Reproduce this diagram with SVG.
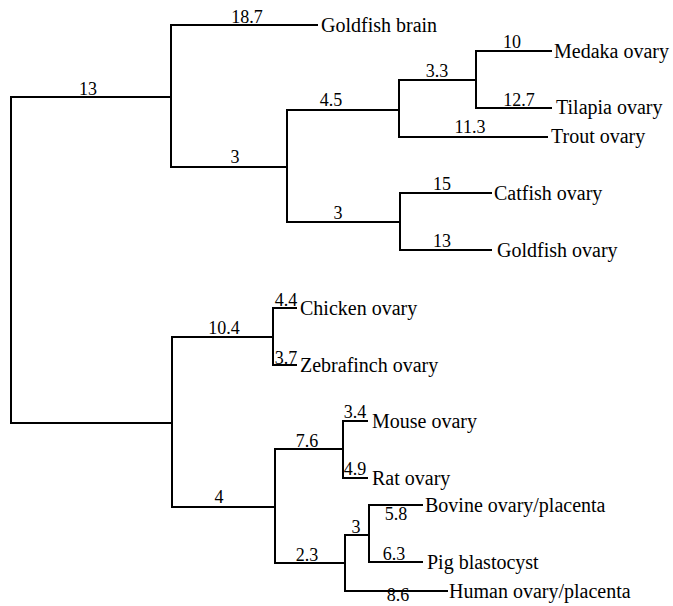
<svg xmlns="http://www.w3.org/2000/svg" width="673" height="606" viewBox="0 0 673 606">
<style>
.e{fill:none;stroke:#000;stroke-width:2;stroke-linejoin:miter}
.n{font-family:"Liberation Serif","Times New Roman",serif;font-size:20px;fill:#000}
.l{font-family:"Liberation Serif","Times New Roman",serif;font-size:18px;fill:#000;text-anchor:middle}
</style>
<rect width="673" height="606" fill="#fff"/>
<g id="connectors">
<path class="e" d="M171,97 H11 V423 H172"/>
<path class="e" d="M318,25 H171 V167 H287"/>
<path class="e" d="M399,110 H287 V222 H400"/>
<path class="e" d="M476,80 H399 V137 H548"/>
<path class="e" d="M552,51 H476 V108 H552"/>
<path class="e" d="M492,193 H400 V250 H492"/>
<path class="e" d="M273,337 H172 V507 H275"/>
<path class="e" d="M297,308 H273 V365 H297"/>
<path class="e" d="M343,449 H275 V563 H345"/>
<path class="e" d="M368,421 H343 V478 H368"/>
<path class="e" d="M369,535 H345 V591 H448"/>
<path class="e" d="M423,505 H369 V562 H423"/>
</g>
<g id="edge-labels">
<text class="l" x="88" y="95">13</text>
<text class="l" x="247" y="23">18.7</text>
<text class="l" x="235" y="163">3</text>
<text class="l" x="331" y="106">4.5</text>
<text class="l" x="437" y="77">3.3</text>
<text class="l" x="512" y="48">10</text>
<text class="l" x="519" y="106">12.7</text>
<text class="l" x="470" y="133">11.3</text>
<text class="l" x="338" y="219">3</text>
<text class="l" x="442" y="190">15</text>
<text class="l" x="442" y="247">13</text>
<text class="l" x="224" y="334">10.4</text>
<text class="l" x="286" y="306">4.4</text>
<text class="l" x="286" y="364">3.7</text>
<text class="l" x="219" y="503">4</text>
<text class="l" x="307" y="447">7.6</text>
<text class="l" x="307" y="561">2.3</text>
<text class="l" x="355" y="418">3.4</text>
<text class="l" x="355" y="475">4.9</text>
<text class="l" x="356" y="533">3</text>
<text class="l" x="396" y="520">5.8</text>
<text class="l" x="394" y="560">6.3</text>
<text class="l" x="398" y="601">8.6</text>
</g>
<g id="goldfish-brain"><text class="n" x="321" y="32">Goldfish brain</text></g>
<g id="medaka-ovary"><text class="n" x="554" y="58">Medaka ovary</text></g>
<g id="tilapia-ovary"><text class="n" x="556" y="114">Tilapia ovary</text></g>
<g id="trout-ovary"><text class="n" x="551" y="143">Trout ovary</text></g>
<g id="catfish-ovary"><text class="n" x="494" y="200">Catfish ovary</text></g>
<g id="goldfish-ovary"><text class="n" x="497" y="257">Goldfish ovary</text></g>
<g id="chicken-ovary"><text class="n" x="300" y="315">Chicken ovary</text></g>
<g id="zebrafinch-ovary"><text class="n" x="300" y="372">Zebrafinch ovary</text></g>
<g id="mouse-ovary"><text class="n" x="372" y="428">Mouse ovary</text></g>
<g id="rat-ovary"><text class="n" x="372" y="485">Rat ovary</text></g>
<g id="bovine-ovary-placenta"><text class="n" x="425" y="512">Bovine ovary/placenta</text></g>
<g id="pig-blastocyst"><text class="n" x="427" y="569">Pig blastocyst</text></g>
<g id="human-ovary-placenta"><text class="n" x="449" y="598">Human ovary/placenta</text></g>
</svg>
